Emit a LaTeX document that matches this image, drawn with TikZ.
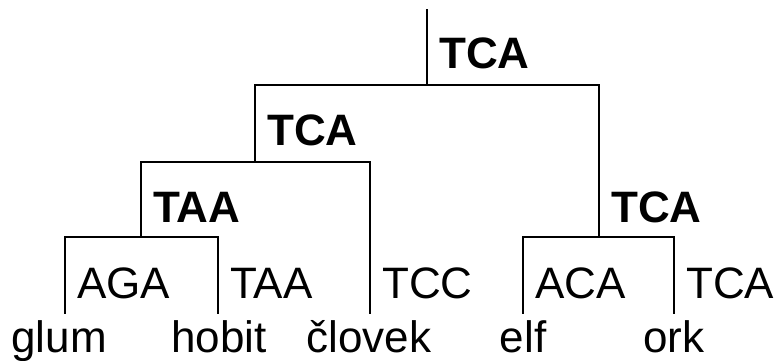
\documentclass[tikz,border=0pt]{standalone}
\usepackage{fontspec}
\setmainfont{Liberation Sans}
\begin{document}
\begin{tikzpicture}[x=1pt,y=-1pt,
  edge/.style={line width=1.3pt, line cap=rect},
  inner/.style={anchor=base west, inner sep=0pt, font=\fontsize{44}{50}\selectfont\bfseries},
  leaflab/.style={anchor=base west, inner sep=0pt, font=\fontsize{44}{50}\selectfont},
  leafname/.style={anchor=base, inner sep=0pt, font=\fontsize{44}{50}\selectfont}]
\useasboundingbox (0,0) rectangle (780,360);
% tree vertices
\coordinate (top) at (427,10);
\coordinate (r) at (427,85);
\coordinate (L) at (255,162);
\coordinate (R) at (599,237);
\coordinate (LL) at (141,237);
\coordinate (gl) at (65,313);
\coordinate (ho) at (218,313);
\coordinate (cl) at (370,313);
\coordinate (el) at (523,313);
\coordinate (or) at (674,313);
% edges
\draw[edge] (top) -- (r);
\draw[edge] (L) |- (r);
\draw[edge] (R) |- (r);
\draw[edge] (LL) |- (L);
\draw[edge] (cl) |- (L);
\draw[edge] (gl) |- (LL);
\draw[edge] (ho) |- (LL);
\draw[edge] (el) |- (R);
\draw[edge] (or) |- (R);
% internal labels
\node[inner] (lr) at (439,68) {TCA};
\node[inner] (lL) at (267,145) {TCA};
\node[inner] (lLL) at (153,222) {TAA};
\node[inner] (lR) at (611,222) {TCA};
% leaf labels
\node[leaflab] (lgl) at (77,298) {AGA};
\node[leaflab] (lho) at (230,298) {TAA};
\node[leaflab] (lcl) at (382,298) {TCC};
\node[leaflab] (lel) at (535,298) {ACA};
\node[leaflab] (lor) at (686,298) {TCA};
% leaf names
\node[leafname] (ngl) at (59,352) {glum};
\node[leafname] (nho) at (219,352) {hobit};
\node[leafname] (ncl) at (369,352) {človek};
\node[leafname] (nel) at (523,352) {elf};
\node[leafname] (nor) at (674,352) {ork};
\end{tikzpicture}
\end{document}
